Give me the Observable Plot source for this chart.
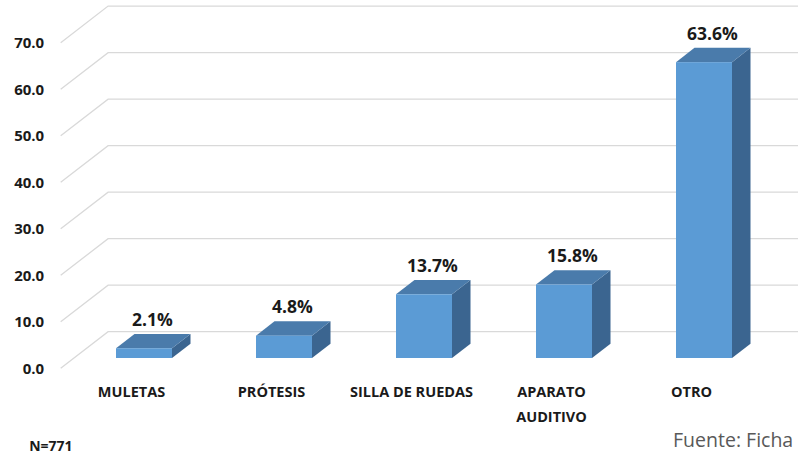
<!DOCTYPE html>
<html>
<head>
<meta charset="utf-8">
<script src="https://cdn.jsdelivr.net/npm/d3@7"></script>
<script src="https://cdn.jsdelivr.net/npm/@observablehq/plot@0.6"></script>
<style>
  html, body { margin: 0; padding: 0; background: #fff; }
</style>
</head>
<body>
<div id="wrap"></div>
<script>
// ---- data ----
const categories = ["MULETAS", "PRÓTESIS", "SILLA DE RUEDAS", "APARATO AUDITIVO", "OTRO"];
const categoryLabels = ["MULETAS", "PRÓTESIS", "SILLA DE RUEDAS", "APARATO\nAUDITIVO", "OTRO"];
const values = [2.1, 4.8, 13.7, 15.8, 63.6];
const valueLabels = ["2.1%", "4.8%", "13.7%", "15.8%", "63.6%"];
const yTicks = [0, 10, 20, 30, 40, 50, 60, 70];
const yTickLabels = ["0.0", "10.0", "20.0", "30.0", "40.0", "50.0", "60.0", "70.0"];
const footnote = "N=771";
const source = "Fuente: Ficha";

const data = categories.map((c, i) => ({cat: c, value: values[i], label: valueLabels[i]}));

// ---- 3D geometry (pixel offsets) & styles ----
const FRONT = {dx: 13, dy: -10.3};   // bar front plane relative to floor front edge
const DEPTH = {dx: 18.5, dy: -14.3}; // bar depth
const WALL = {dx: 47.4, dy: -36.6};  // back wall
const colors = {front: "#5b9bd5", top: "#4a7bab", side: "#3b6590", grid: "#d9d9d9", text: "#1a1a1a", source: "#595959"};

const gridMark = Plot.ruleY(yTicks, {
  y: d => d,
  render(index, scales, vals, dim) {
    const g = d3.create("svg:g");
    const x0 = dim.marginLeft;
    for (const i of index) {
      const y = scales.y(yTicks[i]);
      g.append("path")
        .attr("d", `M${x0},${y}L${x0 + WALL.dx},${y + WALL.dy}H${dim.width}`)
        .attr("fill", "none")
        .attr("stroke", colors.grid)
        .attr("stroke-width", 1.3);
    }
    return g.node();
  }
});

const barMark = Plot.barY(data, {
  x: "cat",
  y: "value",
  render(index, scales, vals, dim) {
    const g = d3.create("svg:g");
    const bwp = scales.x.bandwidth;
    const bw = typeof bwp === "function" ? bwp() : bwp;
    const y0 = scales.y(0);
    for (const i of index) {
      const d = data[i];
      const x0 = scales.x(d.cat) + FRONT.dx, x1 = x0 + bw;
      const yb = y0 + FRONT.dy, yt = scales.y(d.value) + FRONT.dy;
      g.append("path")
        .attr("d", `M${x1},${yb}L${x1},${yt}L${x1 + DEPTH.dx},${yt + DEPTH.dy}L${x1 + DEPTH.dx},${yb + DEPTH.dy}Z`)
        .attr("fill", colors.side);
      g.append("path")
        .attr("d", `M${x0},${yt}L${x1},${yt}L${x1 + DEPTH.dx},${yt + DEPTH.dy}L${x0 + DEPTH.dx},${yt + DEPTH.dy}Z`)
        .attr("fill", colors.top);
      g.append("rect")
        .attr("x", x0).attr("y", yt).attr("width", bw).attr("height", yb - yt)
        .attr("fill", colors.front);
    }
    return g.node();
  }
});

const chart = Plot.plot({
  width: 798,
  height: 456,
  marginLeft: 60.7,
  marginRight: 37.3,
  marginTop: 42.7,
  marginBottom: 87.7,
  style: {fontFamily: "'Open Sans', sans-serif", fontWeight: 700, color: colors.text, background: "#fff"},
  x: {domain: categories, paddingInner: 0.6, paddingOuter: 0.3},
  y: {domain: [0, 70]},
  marks: [
    gridMark,
    barMark,
    Plot.text(data, {
      x: "cat", y: "value", text: "label",
      dx: FRONT.dx + 8, dy: FRONT.dy + DEPTH.dy - 14,
      fontSize: 17.5, fontWeight: 700, fill: colors.text
    }),
    Plot.axisX({
      tickSize: 0, tickPadding: 11, fontSize: 14.5, fontWeight: 700, lineHeight: 1.7,
      tickFormat: c => categoryLabels[categories.indexOf(c)], label: null
    }),
    Plot.axisY({
      ticks: yTicks, tickSize: 0, tickPadding: 17, fontSize: 15, fontWeight: 700,
      tickFormat: v => yTickLabels[yTicks.indexOf(v)], label: null
    }),
    Plot.text([footnote], {
      text: d => d, frameAnchor: "bottom-left", textAnchor: "start", lineAnchor: "middle",
      dx: -32, dy: 78, fontSize: 14, fontWeight: 700, fill: colors.text
    }),
    Plot.text([source], {
      text: d => d, frameAnchor: "bottom-right", textAnchor: "end", lineAnchor: "middle",
      dx: 32, dy: 72, fontSize: 19.5, fontWeight: 400, fill: colors.source
    })
  ]
});

document.getElementById("wrap").appendChild(chart);
</script>
</body>
</html>
